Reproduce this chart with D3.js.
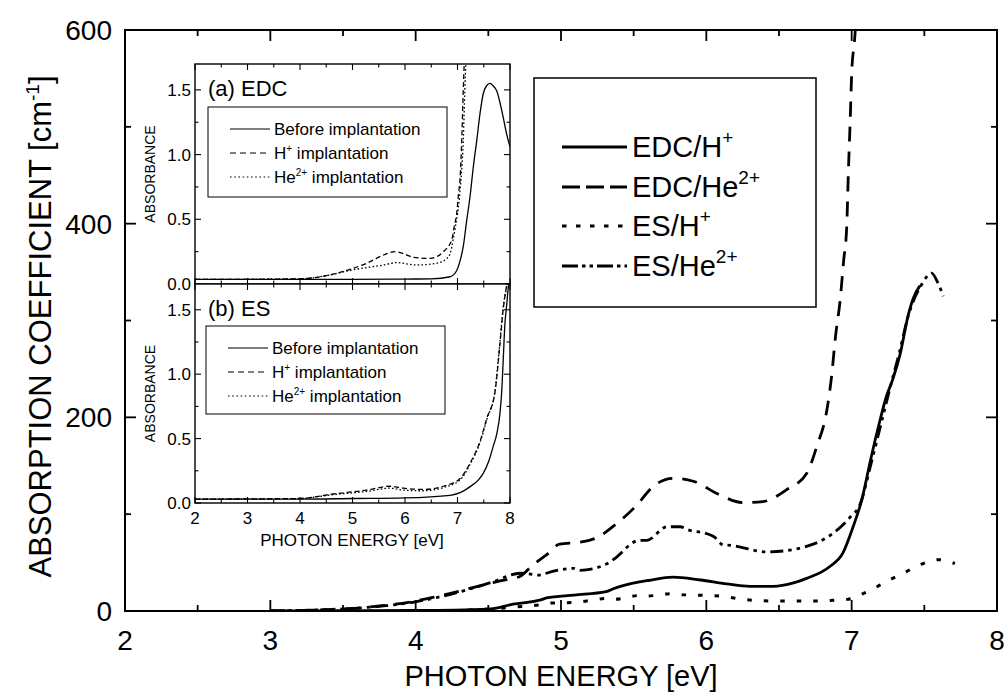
<!DOCTYPE html>
<html>
<head>
<meta charset="utf-8">
<script src="https://cdn.jsdelivr.net/npm/d3@7"></script>
<style>
  html, body { margin: 0; padding: 0; background: #fff; }
  svg { display: block; font-family: "Liberation Sans", Arial, Helvetica, sans-serif; }
</style>
</head>
<body>
<svg id="chart" width="1005" height="694"></svg>
<script>
// ---- Main plot: absorption coefficient vs photon energy ----
const xTicksMain = [2, 3, 4, 5, 6, 7, 8];
const yTicksMain = [0, 200, 400, 600];

const edcH_E  = [3.0, 4.0, 4.5, 4.67, 4.86, 4.9, 5.09, 5.31, 5.36, 5.54, 5.6, 5.77, 5.96, 6.14, 6.3, 6.46, 6.6, 6.69, 6.85, 6.94, 7.01, 7.07, 7.13, 7.195, 7.24, 7.28, 7.333, 7.39, 7.424, 7.47];
const edcH_v  = [0, 0.5, 2, 7, 11.4, 13.5, 16.5, 20, 23, 30, 31.5, 35, 32, 28, 25.5, 25.5, 29, 33.7, 46, 60, 87, 115, 156, 197, 222, 238, 265, 306, 323, 336];

const edcHe_E = [3.0, 3.3, 3.6, 3.8, 3.95, 4.1, 4.26, 4.44, 4.58, 4.72, 4.81, 4.9, 4.99, 5.13, 5.25, 5.38, 5.52, 5.63, 5.77, 5.91, 6.09, 6.25, 6.39, 6.55, 6.69, 6.76, 6.83, 6.86, 6.89, 6.92, 6.945, 6.966, 6.977, 6.99, 7.0, 7.02, 7.035];
const edcHe_v = [0, 1, 3, 6, 9, 13.5, 19, 26, 31, 36, 48, 58, 69, 71, 76, 90, 109, 128, 137, 134, 120, 112, 113, 125, 142, 170, 208, 240, 285, 320, 362, 397, 452, 507, 555, 590, 620];

const esH_E   = [3.0, 4.0, 4.5, 4.67, 4.86, 4.9, 5.1, 5.32, 5.36, 5.54, 5.59, 5.77, 5.82, 6.0, 6.12, 6.23, 6.46, 6.7, 6.97, 7.08, 7.26, 7.38, 7.49, 7.6, 7.71];
const esH_v   = [0, 0, 2, 4, 6.5, 8, 9, 13, 12, 16, 15.5, 18, 17, 16, 15, 12.4, 10.3, 10.3, 12, 18, 32, 41, 49, 53, 49];

const esHe_E  = [3.0, 3.3, 3.6, 3.8, 3.98, 4.1, 4.35, 4.53, 4.72, 4.86, 4.9, 5.09, 5.13, 5.32, 5.36, 5.54, 5.59, 5.73, 5.82, 5.87, 6.0, 6.05, 6.12, 6.14, 6.42, 6.67, 6.87, 6.99, 7.06, 7.13, 7.2, 7.26, 7.33, 7.39, 7.43, 7.47, 7.51, 7.55, 7.59, 7.63];
const esHe_v  = [0, 1, 3, 5.5, 9, 12.4, 21.7, 30, 39, 37, 39, 44, 42, 49, 53, 73, 73, 87, 87, 84, 80, 77, 68, 68, 61, 66, 80, 97, 111, 150, 192, 228, 268, 305, 322, 334, 344, 349, 340, 325];

const mainNames = ["EDC/H", "EDC/He", "ES/H", "ES/He"];
const mainSups  = ["+", "2+", "+", "2+"];

// ---- Inset data: absorbance ----
const insetXTicks = [2, 3, 4, 5, 6, 7, 8];
const insetYTicks = [0.0, 0.5, 1.0, 1.5];

const aBefore_E = [2.0, 3.0, 4.0, 5.0, 6.0, 6.5, 6.86, 6.98, 7.05, 7.11, 7.175, 7.24, 7.30, 7.37, 7.43, 7.49, 7.55, 7.62, 7.68, 7.75, 7.81, 7.87, 7.93, 8.0];
const aBefore_v = [0.035, 0.035, 0.035, 0.035, 0.038, 0.04, 0.056, 0.10, 0.18, 0.29, 0.49, 0.68, 0.90, 1.12, 1.32, 1.47, 1.53, 1.55, 1.53, 1.49, 1.40, 1.29, 1.17, 1.06];
const aH_E = [2.0, 3.0, 4.0, 4.57, 4.95, 5.27, 5.59, 5.81, 6.0, 6.16, 6.48, 6.73, 6.89, 6.94, 6.98, 7.02, 7.05, 7.08, 7.11, 7.13];
const aH_v = [0.035, 0.036, 0.04, 0.07, 0.113, 0.16, 0.224, 0.25, 0.23, 0.206, 0.198, 0.25, 0.34, 0.45, 0.53, 0.70, 0.82, 1.1, 1.5, 1.72];
const aHe_E = [2.0, 4.0, 4.57, 4.95, 5.59, 5.84, 6.22, 6.6, 6.83, 6.95, 7.05, 7.11, 7.14, 7.16];
const aHe_v = [0.035, 0.04, 0.07, 0.105, 0.147, 0.165, 0.147, 0.16, 0.21, 0.42, 0.73, 1.11, 1.5, 1.72];

const bBefore_E = [2.0, 4.0, 5.0, 6.0, 6.86, 7.05, 7.24, 7.4, 7.49, 7.6, 7.68, 7.75, 7.81, 7.84, 7.87, 7.9, 7.94, 7.97, 8.0];
const bBefore_v = [0.03, 0.03, 0.035, 0.04, 0.06, 0.08, 0.127, 0.18, 0.23, 0.33, 0.44, 0.54, 0.70, 0.85, 1.1, 1.37, 1.55, 1.68, 1.72];
const bH_E = [2.0, 4.0, 4.63, 5.27, 5.71, 5.97, 6.35, 6.73, 7.05, 7.24, 7.43, 7.56, 7.71, 7.81, 7.87, 7.92, 7.95];
const bH_v = [0.03, 0.035, 0.07, 0.10, 0.13, 0.115, 0.105, 0.13, 0.19, 0.31, 0.48, 0.66, 0.85, 1.24, 1.5, 1.65, 1.72];
const bHe_E = [2.0, 4.0, 4.63, 5.27, 5.71, 5.97, 6.35, 6.73, 7.05, 7.24, 7.43, 7.56, 7.71, 7.81, 7.87, 7.93, 7.96];
const bHe_v = [0.03, 0.035, 0.065, 0.09, 0.115, 0.10, 0.095, 0.12, 0.18, 0.30, 0.47, 0.65, 0.86, 1.26, 1.52, 1.66, 1.72];

const insetLegend = ["Before implantation", "H", "He"];

// ---- Drawing ----
const svg = d3.select("#chart");
const zip = (E, v) => E.map((e, i) => [e, v[i]]);

const P = { left: 125, right: 997, top: 30, bottom: 611 };
const x = d3.scaleLinear().domain([2, 8]).range([P.left, P.right]);
const y = d3.scaleLinear().domain([0, 600]).range([P.bottom, P.top]);

svg.append("rect").attr("width", 1005).attr("height", 694).attr("fill", "#fff");

const defs = svg.append("defs");
defs.append("clipPath").attr("id", "clipMain")
  .append("rect").attr("x", P.left).attr("y", P.top)
  .attr("width", P.right - P.left).attr("height", P.bottom - P.top);

// main curves
const styles = [
  { dash: null,               w: 2.8 },
  { dash: "15,10",            w: 2.8 },
  { dash: "4.5,12",           w: 3.0 },
  { dash: "13,5,3.5,5,3.5,5", w: 2.8 }
];
const legendDash = [null, "18,6", "4.5,9.5", "16,4,3.5,4,3.5,4"];
const mainSeries = [zip(edcH_E, edcH_v), zip(edcHe_E, edcHe_v), zip(esH_E, esH_v), zip(esHe_E, esHe_v)];
const lineMain = d3.line().x(d => x(d[0])).y(d => y(d[1])).curve(d3.curveMonotoneX);

const gCurves = svg.append("g").attr("clip-path", "url(#clipMain)");
mainSeries.forEach((s, i) => {
  gCurves.append("path").datum(s).attr("d", lineMain)
    .attr("fill", "none").attr("stroke", "#000")
    .attr("stroke-width", styles[i].w)
    .attr("stroke-dasharray", styles[i].dash)
    .attr("stroke-linecap", "butt").attr("stroke-linejoin", "round");
});

// inward ticks on a given side
function inwardTicks(g, scale, values, orient, len, pos) {
  values.forEach(v => {
    const p = scale(v);
    let x1, y1, x2, y2;
    if (orient === "bottom") { x1 = x2 = p; y1 = pos; y2 = pos - len; }
    if (orient === "top")    { x1 = x2 = p; y1 = pos; y2 = pos + len; }
    if (orient === "left")   { y1 = y2 = p; x1 = pos; x2 = pos + len; }
    if (orient === "right")  { y1 = y2 = p; x1 = pos; x2 = pos - len; }
    g.append("line").attr("x1", x1).attr("y1", y1).attr("x2", x2).attr("y2", y2)
      .attr("stroke", "#000");
  });
}
const gAx = svg.append("g").attr("stroke-width", 1.8);
const xMajor = d3.range(2, 8.01, 1), xMinor = d3.range(2.5, 8, 1);
const yMajor = d3.range(0, 601, 200), yMinor = d3.range(100, 600, 200);
inwardTicks(gAx, x, xMajor, "bottom", 11, P.bottom);
inwardTicks(gAx, x, xMinor, "bottom", 6, P.bottom);
inwardTicks(gAx, x, xMajor, "top", 11, P.top);
inwardTicks(gAx, x, xMinor, "top", 6, P.top);
inwardTicks(gAx, y, yMajor, "left", 11, P.left);
inwardTicks(gAx, y, yMinor, "left", 6, P.left);
inwardTicks(gAx, y, yMajor, "right", 11, P.right);
inwardTicks(gAx, y, yMinor, "right", 6, P.right);
svg.append("rect").attr("x", P.left).attr("y", P.top)
  .attr("width", P.right - P.left).attr("height", P.bottom - P.top)
  .attr("fill", "none").attr("stroke", "#000").attr("stroke-width", 2);

// tick labels
svg.append("g").selectAll("text").data(xTicksMain).join("text")
  .attr("x", d => x(d)).attr("y", 650).attr("text-anchor", "middle")
  .attr("font-size", 28).text(d => d);
svg.append("g").selectAll("text").data(yTicksMain).join("text")
  .attr("x", 112).attr("y", d => y(d) + 10).attr("text-anchor", "end")
  .attr("font-size", 28).text(d => d);

// axis titles
svg.append("text").attr("x", (P.left + P.right) / 2).attr("y", 686)
  .attr("text-anchor", "middle").attr("font-size", 29).text("PHOTON ENERGY [eV]");
const yt = svg.append("text")
  .attr("transform", `translate(51,${(P.top + P.bottom) / 2 + 6}) rotate(-90)`)
  .attr("text-anchor", "middle").attr("font-size", 31);
yt.append("tspan").text("ABSORPTION COEFFICIENT [cm");
yt.append("tspan").attr("font-size", 19).attr("dy", -12).text("-1");
yt.append("tspan").attr("dy", 12).text("]");

// main legend
const L = { x: 534, y: 78, w: 282, h: 229 };
svg.append("rect").attr("x", L.x).attr("y", L.y).attr("width", L.w).attr("height", L.h)
  .attr("fill", "#fff").attr("stroke", "#000").attr("stroke-width", 1.5);
const legY = [147, 187, 226, 266];
mainNames.forEach((n, i) => {
  svg.append("line").attr("x1", 562).attr("x2", 627).attr("y1", legY[i]).attr("y2", legY[i])
    .attr("stroke", "#000").attr("stroke-width", styles[i].w)
    .attr("stroke-dasharray", legendDash[i]);
  const t = svg.append("text").attr("x", 632).attr("y", legY[i] + 10).attr("font-size", 29);
  t.append("tspan").text(n);
  t.append("tspan").attr("font-size", 19).attr("dy", -13).text(mainSups[i]);
});

// ---- Insets ----
const ix = d3.scaleLinear().domain([2, 8]).range([195, 510]);
const panels = [
  { top: 64, bottom: 284, tag: "(a) EDC", series: [zip(aBefore_E, aBefore_v), zip(aH_E, aH_v), zip(aHe_E, aHe_v)], leg: { x: 208, y: 107, w: 239, h: 90 } },
  { top: 284, bottom: 503, tag: "(b) ES", series: [zip(bBefore_E, bBefore_v), zip(bH_E, bH_v), zip(bHe_E, bHe_v)], leg: { x: 206, y: 326, w: 239, h: 88 } }
];
const insetDash = [null, "5,3", "1.6,2.2"];
const insetLegDash = [null, "6,4", "1.6,2.6"];

panels.forEach((pn, k) => {
  const iy = d3.scaleLinear().domain([0, 1.7]).range([pn.bottom, pn.top]);
  const g = svg.append("g");
  g.append("rect").attr("x", 195).attr("y", pn.top).attr("width", 315).attr("height", pn.bottom - pn.top)
    .attr("fill", "#fff");
  const cid = "clipInset" + k;
  defs.append("clipPath").attr("id", cid).append("rect")
    .attr("x", 195).attr("y", pn.top).attr("width", 315).attr("height", pn.bottom - pn.top);
  const line = d3.line().x(d => ix(d[0])).y(d => iy(d[1])).curve(d3.curveMonotoneX);
  const gc = g.append("g").attr("clip-path", `url(#${cid})`);
  pn.series.forEach((s, i) => {
    gc.append("path").datum(s).attr("d", line).attr("fill", "none")
      .attr("stroke", "#000").attr("stroke-width", 1.3)
      .attr("stroke-dasharray", insetDash[i]);
  });
  const ga = g.append("g").attr("stroke-width", 1.1);
  inwardTicks(ga, ix, d3.range(2, 8.01, 1), "bottom", 6, pn.bottom);
  inwardTicks(ga, ix, d3.range(2.5, 8, 1), "bottom", 3.5, pn.bottom);
  inwardTicks(ga, ix, d3.range(2, 8.01, 1), "top", 6, pn.top);
  inwardTicks(ga, ix, d3.range(2.5, 8, 1), "top", 3.5, pn.top);
  inwardTicks(ga, iy, [0, 0.5, 1.0, 1.5], "left", 6, 195);
  inwardTicks(ga, iy, [0.25, 0.75, 1.25], "left", 3.5, 195);
  inwardTicks(ga, iy, [0, 0.5, 1.0, 1.5], "right", 6, 510);
  inwardTicks(ga, iy, [0.25, 0.75, 1.25], "right", 3.5, 510);
  g.append("rect").attr("x", 195).attr("y", pn.top).attr("width", 315).attr("height", pn.bottom - pn.top)
    .attr("fill", "none").attr("stroke", "#000").attr("stroke-width", 1.4);
  g.append("g").selectAll("text").data(insetYTicks).join("text")
    .attr("x", 191).attr("y", d => iy(d) + 6).attr("text-anchor", "end")
    .attr("font-size", 17).text(d => d.toFixed(1));
  g.append("text").attr("transform", `translate(155,${(pn.top + pn.bottom) / 2}) rotate(-90)`)
    .attr("text-anchor", "middle").attr("font-size", 14).text("ABSORBANCE");
  g.append("text").attr("x", 208).attr("y", pn.top + 32).attr("font-size", 22).text(pn.tag);
  const lg = pn.leg;
  g.append("rect").attr("x", lg.x).attr("y", lg.y).attr("width", lg.w).attr("height", lg.h)
    .attr("fill", "#fff").attr("stroke", "#000").attr("stroke-width", 1);
  const rows = [lg.y + 22, lg.y + 46, lg.y + 70];
  insetLegend.forEach((name, i) => {
    g.append("line").attr("x1", lg.x + 22).attr("x2", lg.x + 62).attr("y1", rows[i]).attr("y2", rows[i])
      .attr("stroke", "#000").attr("stroke-width", 1.2).attr("stroke-dasharray", insetLegDash[i]);
    const t = g.append("text").attr("x", lg.x + 66).attr("y", rows[i] + 6).attr("font-size", 17);
    if (i === 0) {
      t.text(name);
    } else {
      t.append("tspan").text(name);
      t.append("tspan").attr("font-size", 10).attr("dy", -7).text(i === 1 ? "+" : "2+");
      t.append("tspan").attr("dy", 7).text(" implantation");
    }
  });
});

// inset x labels (bottom panel only)
svg.append("g").selectAll("text").data(insetXTicks).join("text")
  .attr("x", d => ix(d)).attr("y", 524).attr("text-anchor", "middle")
  .attr("font-size", 17).text(d => d);
svg.append("text").attr("x", 352).attr("y", 546).attr("text-anchor", "middle")
  .attr("font-size", 17).text("PHOTON ENERGY [eV]");
</script>
</body>
</html>
